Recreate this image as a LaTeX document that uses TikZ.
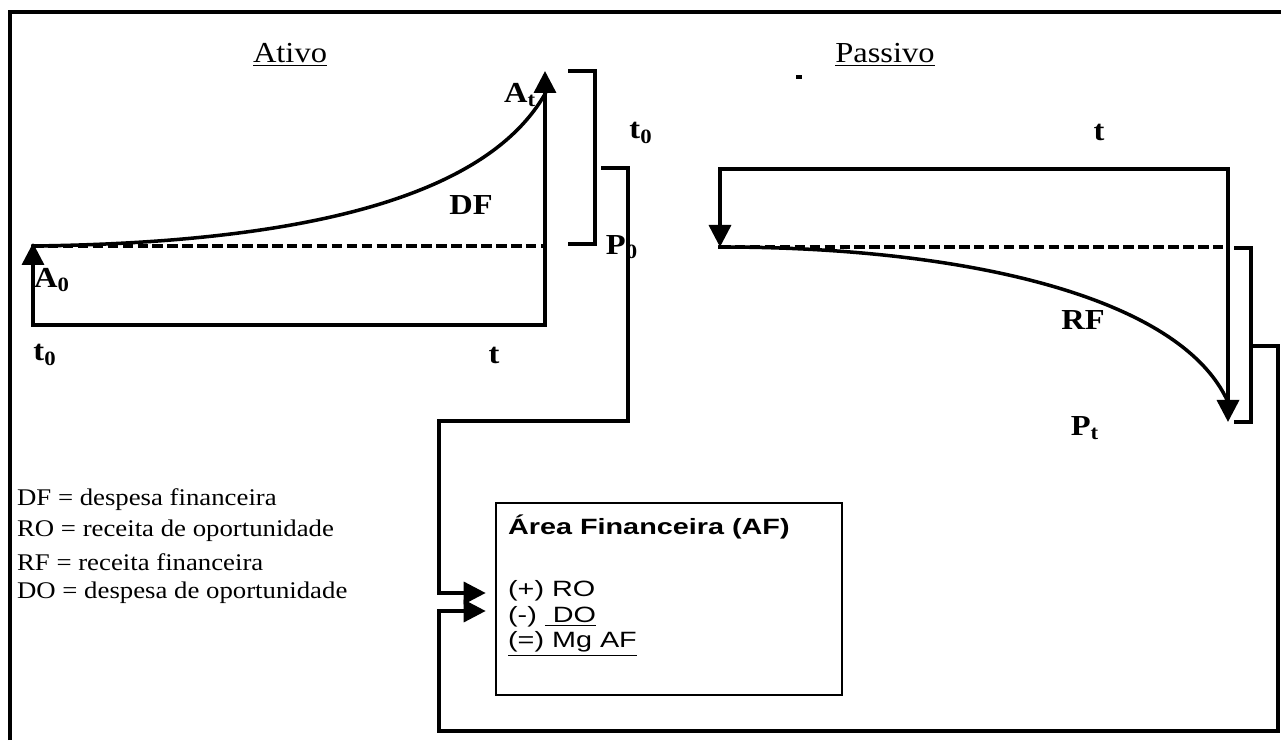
\documentclass[tikz,border=0pt]{standalone}
\usepackage{fontspec}
\setmainfont{Liberation Serif}[FakeStretch=1.12]
\newfontfamily\arialfont{Liberation Sans}[FakeStretch=1.3]
\usetikzlibrary{arrows.meta}

\begin{document}
\begin{tikzpicture}[x=1cm,y=1cm]
\tikzset{
  titlelabel/.style={inner sep=1pt,font=\fontsize{16.5}{19}\selectfont},
  chartlabel/.style={inner sep=1pt,font=\fontsize{16.5}{19}\selectfont\bfseries},
  legendtext/.style={anchor=west,inner sep=1pt,font=\fontsize{13.6}{15}\selectfont},
  boxtext/.style={anchor=west,inner sep=1pt,font=\fontsize{12.6}{14}\selectfont\arialfont},
  boxtitle/.style={boxtext,font=\fontsize{12.6}{14}\selectfont\arialfont\bfseries},
  areabox/.style={draw=black,line width=1.5pt,minimum width=6.92cm,minimum height=3.84cm,inner sep=0pt},
  solidline/.style={draw=black,line width=2pt,line cap=rect,line join=miter},
  dashline/.style={solidline,line cap=butt,dash pattern=on 6pt off 2.5pt},
  arrowline/.style={solidline,-{Triangle[length=4.4mm,width=4.4mm]}},
  frameline/.style={draw=black,line width=2pt}
}
\useasboundingbox (0,0) rectangle (25.62,14.80);
\draw[frameline] (0.20,0) -- (0.20,14.56) -- (25.62,14.56);
\fill (15.92,13.21) rectangle (16.04,13.29);
\node[titlelabel] (n_ativo) at (5.80,13.70) {\underline{Ativo}};
\node[titlelabel] (n_passivo) at (17.70,13.70) {\underline{Passivo}};
\coordinate (a_orig) at (0.66,8.30);
\coordinate (a_end) at (10.90,8.30);
\coordinate (a_A0) at (0.66,9.94);
\coordinate (a_At) at (10.90,13.38);
\coordinate (a_lvl0) at (0.66,9.88);
\coordinate (a_lvl1) at (10.90,9.88);
\coordinate (a_curve) at (10.90,12.92);
\coordinate (p_l) at (14.40,11.42);
\coordinate (p_r) at (24.56,11.42);
\coordinate (p_P0) at (14.40,9.86);
\coordinate (p_Pt) at (24.56,6.36);
\coordinate (p_lvl1) at (24.56,9.86);
\coordinate (p_curve) at (24.56,6.76);
\coordinate (c_br2a) at (12.06,11.44);
\coordinate (c_br2b) at (12.56,11.44);
\coordinate (c_br2c) at (12.56,6.38);
\coordinate (c_br2d) at (8.78,6.38);
\coordinate (c_fb1) at (8.78,2.94);
\coordinate (c_br3a) at (25.02,7.88);
\coordinate (c_br3b) at (25.56,7.88);
\coordinate (c_br3c) at (25.56,0.18);
\coordinate (c_br3d) at (8.78,0.18);
\coordinate (c_fb2) at (8.78,2.58);
\node[areabox] (n_area) at (13.38,2.82) {};
\draw[arrowline] (a_end) -- (a_orig) -- (a_A0);
\draw[arrowline] (a_orig) -- (a_end) -- (a_At);
\draw[dashline] (a_lvl0) -- (a_lvl1);
\draw[solidline] (a_lvl0) .. controls (6.50,9.95) and (9.80,11.00) .. (a_curve);
\draw[arrowline] (p_r) -- (p_l) -- (p_P0);
\draw[arrowline] (p_l) -- (p_r) -- (p_Pt);
\draw[dashline] (p_P0) -- (p_lvl1);
\draw[solidline] (p_P0) .. controls (19.20,9.86) and (23.60,8.90) .. (p_curve);
\draw[solidline] (11.40,13.38) -- (11.90,13.38) -- (11.90,9.92) -- (11.40,9.92);
\draw[solidline] (24.72,9.84) -- (25.02,9.84) -- (25.02,6.36) -- (24.72,6.36);
\draw[arrowline,shorten >=1.8mm] (c_br2a) -- (c_br2b) -- (c_br2c) -- (c_br2d) -- (c_fb1) -- (n_area.west |- c_fb1);
\draw[arrowline,shorten >=1.8mm] (c_br3a) -- (c_br3b) -- (c_br3c) -- (c_br3d) -- (c_fb2) -- (n_area.west |- c_fb2);
\node[chartlabel] (n_At) at (10.40,12.90) {A\textsubscript{t}};
\node[chartlabel] (n_DF) at (9.42,10.70) {DF};
\node[chartlabel] (n_A0) at (1.04,9.20) {A\textsubscript{0}};
\node[chartlabel] (n_t0) at (0.90,7.70) {t\textsubscript{0}};
\node[chartlabel] (n_t) at (9.88,7.70) {t};
\node[chartlabel] (n_t0b) at (12.82,12.14) {t\textsubscript{0}};
\node[chartlabel] (n_P0) at (12.44,9.86) {P\textsubscript{0}};
\node[chartlabel] (n_tb) at (21.98,12.16) {t};
\node[chartlabel] (n_RF) at (21.66,8.40) {RF};
\node[chartlabel] (n_Pt) at (21.70,6.24) {P\textsubscript{t}};
\node[legendtext] (n_legDF) at (0.30,4.80) {DF = despesa financeira};
\node[legendtext] (n_legRO) at (0.30,4.18) {RO = receita de oportunidade};
\node[legendtext] (n_legRF) at (0.30,3.56) {RF = receita financeira};
\node[legendtext] (n_legDO) at (0.30,2.94) {DO = despesa de oportunidade};
\node[boxtitle] (n_areatitle) at (10.12,4.26) {Área Financeira (AF)};
\node[boxtext] (n_RO) at (10.12,2.98) {(+) RO};
\node[boxtext] (n_DO) at (10.12,2.46) {(-) \underline{\ DO}};
\node[boxtext] (n_Mg) at (10.12,1.92) {\underline{(=) Mg AF}};
\end{tikzpicture}
\end{document}
